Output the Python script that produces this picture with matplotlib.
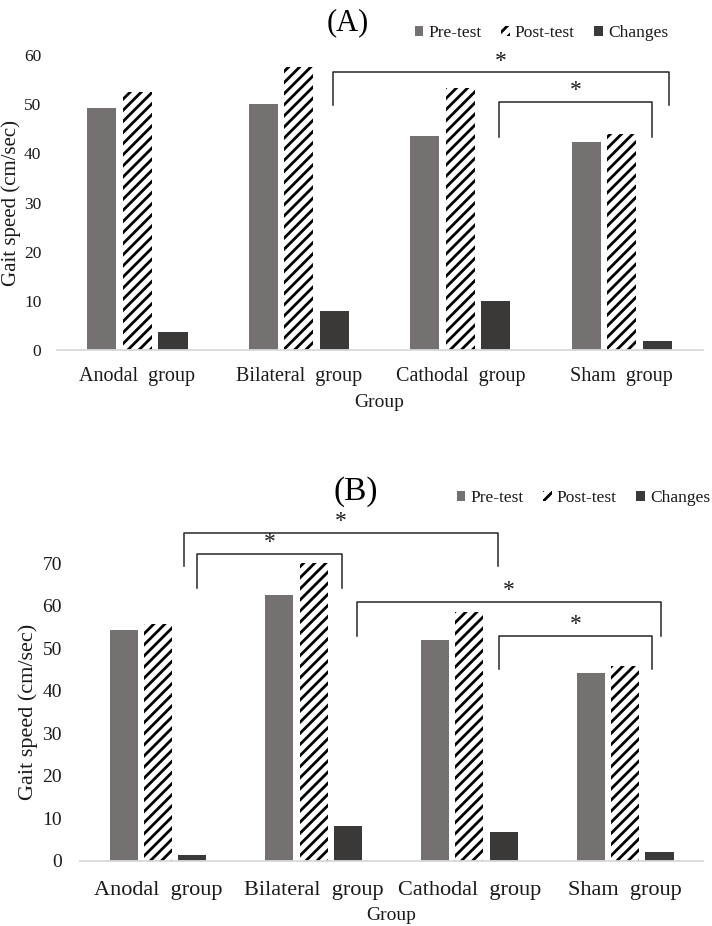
import matplotlib
matplotlib.use("Agg")
import matplotlib.pyplot as plt
import numpy as np

groups = ["Anodal  group", "Bilateral  group", "Cathodal  group", "Sham  group"]
series = ["Pre-test", "Post-test", "Changes"]

pre_a = [49.2, 50.0, 43.5, 42.3]
post_a = [52.5, 57.5, 53.2, 44.0]
chg_a = [3.6, 7.9, 10.0, 1.9]

pre_b = [54.2, 62.5, 51.9, 44.1]
post_b = [55.6, 69.9, 58.4, 45.9]
chg_b = [1.5, 8.2, 6.8, 2.0]

# significance brackets: (x_left, x_right, top, leg_bottom)
brackets_a = [(1.21, 3.29, 56.5, 49.8), (2.24, 3.19, 50.4, 43.3)]
brackets_b = [(0.17, 2.18, 77.0, 69.3), (0.25, 1.18, 72.1, 64.2),
              (1.28, 3.23, 60.9, 52.9), (2.19, 3.17, 52.9, 45.0)]

PRE = "#767171"
CHG = "#3b3838"
INK = "#1a1a1a"

plt.rcParams["font.family"] = ["Liberation Serif", "DejaVu Serif"]
plt.rcParams["hatch.linewidth"] = 2.0
plt.rcParams["hatch.color"] = "black"


def draw_panel(ax, pre, post, chg, brackets, ymax, tick_size, label_size, xpad):
    x = np.arange(len(groups))
    w, off = 0.18, 0.22
    b1 = ax.bar(x - off, pre, w, color=PRE, label=series[0])
    b2 = ax.bar(x, post, w, color="white", edgecolor="black", linewidth=0,
                hatch="///", label=series[1])
    b3 = ax.bar(x + off, chg, w, color=CHG, label=series[2])
    ax.set_xlim(-0.5, 3.5)
    ax.set_ylim(0, ymax)
    ax.set_yticks(range(0, ymax + 1, 10))
    ax.set_xticks(x)
    ax.set_xticklabels(groups, fontsize=label_size, color=INK)
    for s in ("top", "right", "left"):
        ax.spines[s].set_visible(False)
    ax.spines["bottom"].set_color("#d9d9d9")
    ax.spines["bottom"].set_linewidth(1.3)
    ax.tick_params(length=0, labelsize=tick_size, colors=INK)
    ax.tick_params(axis="x", labelsize=label_size, pad=xpad)

    for x0, x1, top, leg in brackets:
        ax.plot([x0, x0, x1, x1], [leg, top, top, leg], color="#262626",
                lw=1.1, clip_on=False)
        ax.text((x0 + x1) / 2, top + ymax * 0.038, "*", ha="center", va="center",
                fontsize=17, color=INK, clip_on=False)
    return [b1, b2, b3]


def add_legend(fig, handles, right, y):
    fig.legend(handles, series, loc="center right", bbox_to_anchor=(right / 712, 1 - y / 926),
               ncol=3, frameon=False, fontsize=12.5, handlelength=0.5, handleheight=0.5,
               handletextpad=0.3, columnspacing=1.1, borderpad=0, borderaxespad=0,
               labelcolor=INK)


fig = plt.figure(figsize=(7.12, 9.26), dpi=100)

ax_a = fig.add_axes([0.0797, 0.622, 0.907, 0.3186])
h = draw_panel(ax_a, pre_a, post_a, chg_a, brackets_a, 60, 12.5, 14.5, 12)
ax_a.tick_params(axis="y", pad=11)
ax_a.set_xlabel("Group", fontsize=14, color=INK, labelpad=6)
fig.text(11 / 712, 1 - 203 / 926, "Gait speed (cm/sec)", rotation=90, ha="center",
         va="center", fontsize=15, color=INK)
fig.text(348 / 712, 1 - 23 / 926, "(A)", ha="center", va="center", fontsize=22, color="black")
add_legend(fig, h, 668, 33)

ax_b = fig.add_axes([0.1125, 0.0702, 0.875, 0.3218])
h = draw_panel(ax_b, pre_b, post_b, chg_b, brackets_b, 70, 14, 16, 14.5)
ax_b.tick_params(axis="y", pad=13)
ax_b.set_xlabel("Group", fontsize=14, color=INK, labelpad=5)
fig.text(28 / 712, 1 - 712 / 926, "Gait speed (cm/sec)", rotation=90, ha="center",
         va="center", fontsize=16, color=INK)
fig.text(356 / 712, 1 - 492 / 926, "(B)", ha="center", va="center", fontsize=24, color="black")
add_legend(fig, h, 710, 498)

fig.savefig("out.png", dpi=100)
